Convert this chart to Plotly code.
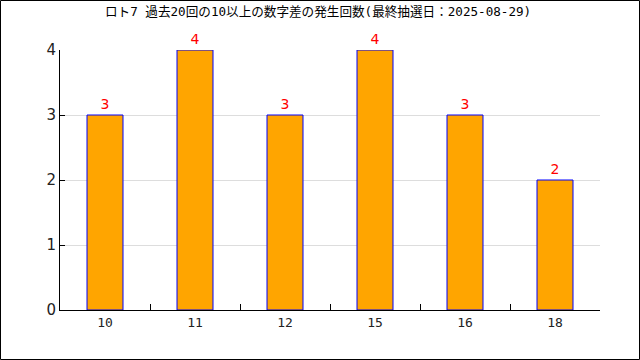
import plotly.graph_objects as go

categories = ["10", "11", "12", "15", "16", "18"]
counts = [3, 4, 3, 4, 3, 2]
title_text = "ロト7 過去20回の10以上の数字差の発生回数(最終抽選日：2025-08-29)"

W, H = 640, 360
ml, mr, mt, mb = 60, 40, 50, 50
pw, ph = W - ml - mr, H - mt - mb

fig = go.Figure()
fig.add_trace(go.Bar(
    x=categories, y=counts,
    marker=dict(color="#FFA500", line=dict(color="#0000FF", width=1)),
    text=[str(v) for v in counts], textposition="outside",
    textfont=dict(color="#FF0000", size=14, family="DejaVu Sans"),
    cliponaxis=False,
))

fig.update_layout(
    width=W, height=H,
    margin=dict(l=ml, r=mr, t=mt, b=mb),
    paper_bgcolor="white", plot_bgcolor="white",
    bargap=0.6, showlegend=False,
    title=dict(text=title_text, x=0.497, xanchor="center", y=1 - 12 / H, yanchor="middle",
               font=dict(size=12.6, color="#000", family="DejaVu Sans Mono, Noto Sans CJK JP")),
    font=dict(family="DejaVu Sans Mono, Noto Sans CJK JP", color="#000"),
    shapes=[dict(type="rect", xref="paper", yref="paper",
                 x0=-(ml - 0.5) / pw, x1=1 + (mr - 0.5) / pw,
                 y0=-(mb - 0.5) / ph, y1=1 + (mt - 0.5) / ph,
                 line=dict(color="black", width=1), layer="below")],
)
fig.update_xaxes(
    type="category", showline=True, linecolor="black", linewidth=1,
    ticks="inside", tickson="boundaries", ticklen=6, tickcolor="black",
    showgrid=False, tickfont=dict(size=13, color="#222", family="DejaVu Sans Mono"),
)
fig.update_yaxes(
    range=[0, 4], tickvals=[0, 1, 2, 3, 4], showline=True, linecolor="black", linewidth=1,
    ticks="inside", ticklen=5, tickcolor="black",
    showgrid=True, gridcolor="#DDDDDD", gridwidth=1, zeroline=False,
    tickfont=dict(size=15, color="#222", family="DejaVu Sans"),
)
fig.write_html("out.html", config={"displayModeBar": False, "staticPlot": True},
               post_script="document.body.style.margin='0';document.body.style.overflow='hidden';")
